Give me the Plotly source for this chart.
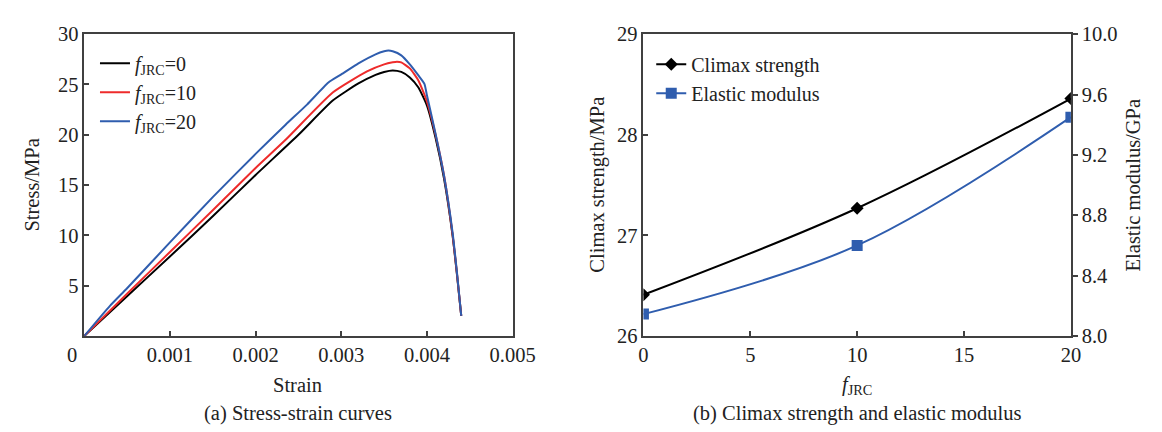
import plotly.graph_objects as go

# ---------------- data: (a) stress-strain curves ----------------
strain_0 = [0, 0.0005, 0.001, 0.0015, 0.002, 0.0025, 0.0029, 0.0032, 0.0034, 0.0035, 0.0036,
            0.0037, 0.0038, 0.0039, 0.004, 0.0041, 0.0042, 0.0043, 0.00435, 0.0044]
stress_0 = [0, 3.95, 7.9, 11.9, 16.0, 20.0, 23.4, 25.1, 25.95, 26.25, 26.4,
            26.25, 25.7, 24.7, 22.9, 19.7, 15.6, 9.9, 6.1, 2.0]

strain_10 = [0, 0.0005, 0.001, 0.0015, 0.002, 0.00235, 0.0029, 0.0033, 0.0035, 0.0036, 0.00365,
             0.0037, 0.0038, 0.0039, 0.004, 0.0041, 0.0042, 0.0043, 0.00435, 0.0044]
stress_10 = [0, 4.2, 8.35, 12.5, 16.7, 19.5, 24.2, 26.3, 27.0, 27.2, 27.26,
             27.2, 26.6, 25.4, 23.3, 20.0, 15.9, 10.0, 6.2, 2.0]

strain_20 = [0, 0.0003, 0.0005, 0.001, 0.0015, 0.002, 0.00235, 0.0026, 0.00285, 0.003, 0.0032,
             0.0034, 0.0035, 0.00355, 0.0036, 0.0037, 0.0038, 0.0039, 0.00397, 0.004, 0.0041,
             0.0042, 0.0043, 0.00435, 0.0044]
stress_20 = [0, 3.0, 4.75, 9.3, 13.8, 18.1, 21.0, 23.0, 25.2, 26.0, 27.1,
             28.0, 28.3, 28.37, 28.3, 27.9, 27.0, 25.9, 25.07, 23.9, 20.1,
             15.9, 10.2, 6.3, 2.0]

# ---------------- data: (b) climax strength and elastic modulus ----------------
f_jrc = [0, 10, 20]
climax_strength = [26.41, 27.27, 28.36]   # MPa
elastic_modulus = [8.145, 8.60, 9.45]     # GPa

FONT = "Liberation Serif, Times New Roman, serif"
FS = 20.5
W, H = 1162, 432
BLACK = "#000000"
RED = "#EE2B2B"
BLUE = "#2F5DAE"
AXC = "#404040"

def px(x):
    return x / W

def py(y):
    return 1 - y / H

fig = go.Figure()

jrc = "<i>f</i><sub>JRC</sub>"
fig.add_trace(go.Scatter(x=strain_0, y=stress_0, mode="lines", name=jrc + "=0",
                         line=dict(color=BLACK, width=2, shape="spline", smoothing=0.5),
                         xaxis="x", yaxis="y", legend="legend"))
fig.add_trace(go.Scatter(x=strain_10, y=stress_10, mode="lines", name=jrc + "=10",
                         line=dict(color=RED, width=2, shape="spline", smoothing=0.5),
                         xaxis="x", yaxis="y", legend="legend"))
fig.add_trace(go.Scatter(x=strain_20, y=stress_20, mode="lines", name=jrc + "=20",
                         line=dict(color=BLUE, width=2, shape="spline", smoothing=0.5),
                         xaxis="x", yaxis="y", legend="legend"))

fig.add_trace(go.Scatter(x=f_jrc, y=climax_strength, mode="lines+markers", name="Climax strength",
                         line=dict(color=BLACK, width=2, shape="spline"),
                         marker=dict(symbol="diamond", size=10, color=BLACK),
                         xaxis="x2", yaxis="y2", legend="legend2"))
fig.add_trace(go.Scatter(x=f_jrc, y=elastic_modulus, mode="lines+markers", name="Elastic modulus",
                         line=dict(color=BLUE, width=2, shape="spline"),
                         marker=dict(symbol="square", size=11, color=BLUE),
                         xaxis="x2", yaxis="y3", legend="legend2"))

ydom = [py(334), py(16)]
common = dict(showline=True, linecolor=AXC, linewidth=1.5, showgrid=False, zeroline=False,
              ticklen=5, tickwidth=1.5, tickcolor=AXC,
              tickfont=dict(family=FONT, size=FS, color="#222"))

fig.update_layout(
    width=W, height=H,
    margin=dict(l=0, r=0, t=0, b=0),
    paper_bgcolor="white", plot_bgcolor="white",
    font=dict(family=FONT, size=FS, color="#222"),
    showlegend=True,
    xaxis=dict(domain=[px(73), px(512)], range=[0, 0.005], anchor="y",
               tickvals=[0.001, 0.002, 0.003, 0.004, 0.005],
               ticktext=["0.001", "0.002", "0.003", "0.004", "0.005"],
               ticks="inside", mirror=True, **common),
    yaxis=dict(domain=ydom, range=[0, 30], anchor="x",
               tickvals=[5, 10, 15, 20, 25, 30],
               ticks="inside", mirror=True, **common),
    xaxis2=dict(domain=[px(646), px(1084)], range=[0, 20], anchor="y2",
                tickvals=[0, 5, 10, 15, 20],
                ticks="inside", mirror=True, **common),
    yaxis2=dict(domain=ydom, range=[26, 29], anchor="x2",
                tickvals=[26, 27, 28, 29],
                ticks="inside", **common),
    yaxis3=dict(range=[8.0, 10.0], anchor="x2", overlaying="y2", side="right",
                tickvals=[8.0, 8.4, 8.8, 9.2, 9.6, 10.0], tickformat=".1f",
                ticks="outside", **common),
    legend=dict(x=px(84), y=py(26), xanchor="left", yanchor="top",
                bgcolor="rgba(0,0,0,0)", font=dict(family=FONT, size=20, color="#222"),
                tracegroupgap=0),
    legend2=dict(x=px(654), y=py(27), xanchor="left", yanchor="top",
                 bgcolor="rgba(0,0,0,0)", font=dict(family=FONT, size=20, color="#222"),
                 tracegroupgap=0),
)

ann = [
    dict(text="0", x=px(60), y=py(354)),
    dict(text="Stress/MPa", x=px(20), y=py(175), textangle=-90),
    dict(text="Strain", x=px(292), y=py(386)),
    dict(text="(a) Stress-strain curves", x=px(292), y=py(416)),
    dict(text="Climax strength/MPa", x=px(598), y=py(175), textangle=-90),
    dict(text="Elastic modulus/GPa", x=px(1148), y=py(175), textangle=-90),
    dict(text="<i>f</i><sub>JRC</sub>", x=px(865), y=py(386)),
    dict(text="(b) Climax strength and elastic modulus", x=px(865), y=py(416)),
]
for a in ann:
    fig.add_annotation(xref="paper", yref="paper", showarrow=False,
                       xanchor="center", yanchor="middle",
                       font=dict(family=FONT, size=FS, color="#222"), **a)

fig.write_html("out.html")
